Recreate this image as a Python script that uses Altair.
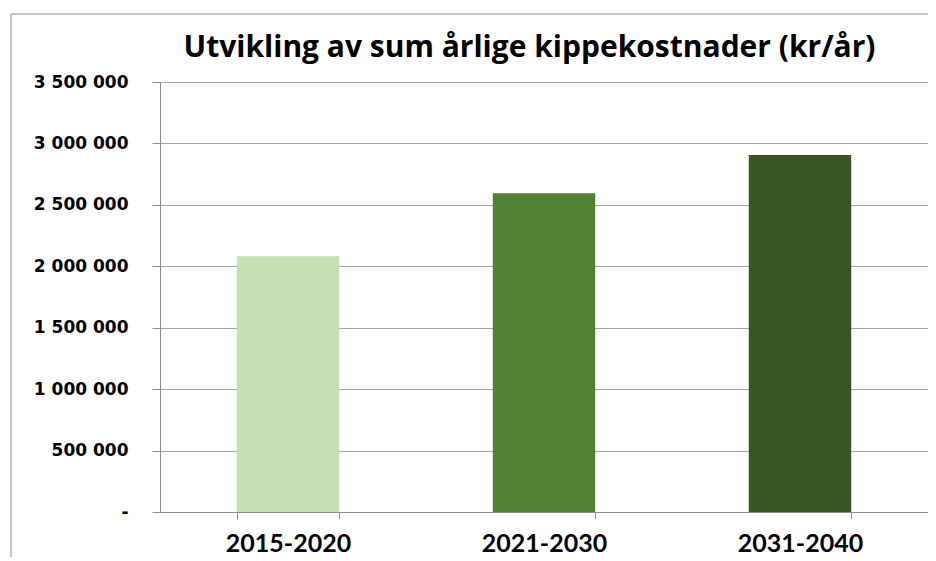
import altair as alt
import pandas as pd

periods = ["2015-2020", "2021-2030", "2031-2040"]
costs = [2082000, 2595000, 2905000]
colors = ["#C6E0B4", "#548235", "#375623"]
y_ticks = [0, 500000, 1000000, 1500000, 2000000, 2500000, 3000000, 3500000]
title_text = "Utvikling av sum årlige kippekostnader (kr/år)"

df = pd.DataFrame({"periode": periods, "kostnad": costs})

NB = "\u00a0"
one = pd.DataFrame({"a": [0]})

border_top = alt.Chart(one).mark_rule(color="#8C8C8C", strokeWidth=1).encode(
    x=alt.value(-149), x2=alt.value(768), y=alt.value(-68)
)
border_left = alt.Chart(one).mark_rule(color="#8C8C8C", strokeWidth=1).encode(
    x=alt.value(-149), y=alt.value(-68), y2=alt.value(475)
)
title = alt.Chart(one).mark_text(
    text=title_text,
    font="Open Sans",
    fontWeight="bold",
    fontSize=30,
    color="#000000",
    align="center",
    baseline="alphabetic",
).encode(x=alt.value(369.5), y=alt.value(-25))

bars = alt.Chart(df).mark_bar(stroke=None).encode(
    x=alt.X(
        "periode:N",
        sort=periods,
        scale=alt.Scale(paddingInner=0.6, paddingOuter=0.3),
        axis=alt.Axis(
            title=None,
            labelAngle=0,
            labelFont="Lato",
            labelFontWeight="bold",
            labelFontSize=25,
            labelColor="#000000",
            labelPadding=12,
            tickBand="extent",
            tickSize=7,
            tickColor="#8C8C8C",
            domainColor="#8C8C8C",
            grid=False,
        ),
    ),
    y=alt.Y(
        "kostnad:Q",
        scale=alt.Scale(domain=[0, 3500000], nice=False),
        axis=alt.Axis(
            title=None,
            values=y_ticks,
            labelExpr="datum.value == 0 ? '-" + NB * 3 + "' : replace(format(datum.value, ','), regexp(',', 'g'), ' ')",
            labelFont="DejaVu Sans",
            labelFontWeight="bold",
            labelFontSize=17,
            labelColor="#000000",
            labelPadding=24,
            tickSize=8,
            tickColor="#8C8C8C",
            domainColor="#8C8C8C",
            grid=True,
            gridColor="#A6A6A6",
            gridWidth=1,
        ),
    ),
    color=alt.Color("periode:N", sort=periods, scale=alt.Scale(domain=periods, range=colors), legend=None),
)

chart = alt.layer(border_top, border_left, title, bars).properties(
    width=768,
    height=430,
    autosize=alt.AutoSizeParams(type="none"),
    padding={"left": 152, "top": 74, "right": 0, "bottom": 45},
).configure_view(stroke=None)

chart.save("out.html", embed_options={"renderer": "svg", "actions": False})
